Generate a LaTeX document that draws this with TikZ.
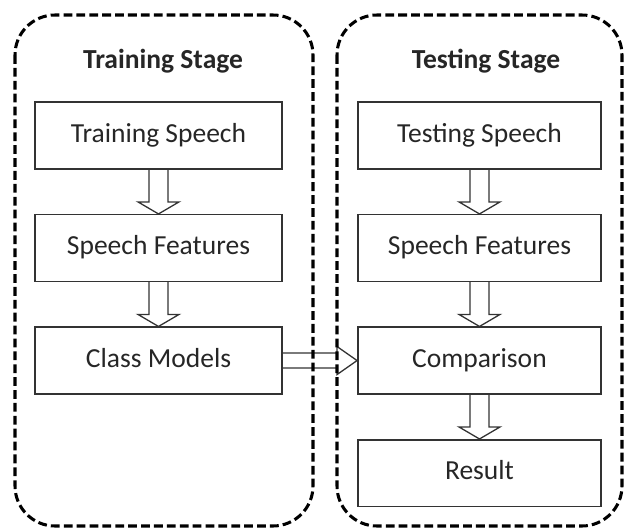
\documentclass[tikz,border=0pt]{standalone}
\usepackage{fontspec}
\setmainfont{Carlito}
\usetikzlibrary{positioning,calc}

\begin{document}
\begin{tikzpicture}[
    box/.style={draw=black!80,line width=1.3pt,minimum width=7.4cm,minimum height=2.0cm,
        text height=0.54cm,text depth=0.15cm,text=black!85,font=\fontsize{23.5}{28}\selectfont},
    title/.style={anchor=base,text=black!85,font=\fontsize{23.5}{28}\selectfont\bfseries},
    stage/.style={draw=black,line width=2.6pt,dash pattern=on 7.5pt off 3.5pt,rounded corners=1.2cm},
    hollow/.style={draw=black!80,line width=1.1pt},
    node distance=1.33cm
]
    \useasboundingbox (0,0) rectangle (18.72,-15.9);

    % Training stage
    \node[title] (trtitle) at (4.89,-2.04) {Training Stage};
    \node[box] (trspeech) at (4.755,-4.065) {Training Speech};
    \node[box,below=of trspeech] (trfeat) {Speech Features};
    \node[box,below=of trfeat] (models) {Class Models};

    % Testing stage
    \node[title] (tetitle) at (14.58,-2.04) {Testing Stage};
    \node[box,minimum width=7.3cm] (tespeech) at (14.385,-4.065) {Testing Speech};
    \node[box,minimum width=7.3cm,below=of tespeech] (tefeat) {Speech Features};
    \node[box,minimum width=7.3cm,below=of tefeat] (compare) {Comparison};
    \node[box,minimum width=7.3cm,below=of compare] (result) {Result};

    % Block arrows down each column
    \foreach \a/\b in {trspeech/trfeat,trfeat/models,tespeech/tefeat,tefeat/compare,compare/result} {
        \draw[hollow] let \p1=(\a.south), \p2=(\b.north) in
            (\x1-0.285cm,\y1) -- (\x1-0.285cm,\y2+0.36cm) -- (\x1-0.615cm,\y2+0.36cm) -- (\p2)
            -- (\x1+0.615cm,\y2+0.36cm) -- (\x1+0.285cm,\y2+0.36cm) -- (\x1+0.285cm,\y1);
    }

    % Models handed over to the comparison
    \draw[hollow] let \p1=(models.east), \p2=(compare.west) in
        (\x1,\y1+0.225cm) -- (\x2-0.6cm,\y1+0.225cm) -- (\x2-0.6cm,\y1+0.42cm) -- (\p2)
        -- (\x2-0.6cm,\y1-0.42cm) -- (\x2-0.6cm,\y1-0.225cm) -- (\x1,\y1-0.225cm);

    % Dashed stage frames
    \draw[stage] (0.45,-0.45) rectangle (9.39,-15.78);
    \draw[stage] (10.11,-0.45) rectangle (18.66,-15.78);
\end{tikzpicture}
\end{document}
